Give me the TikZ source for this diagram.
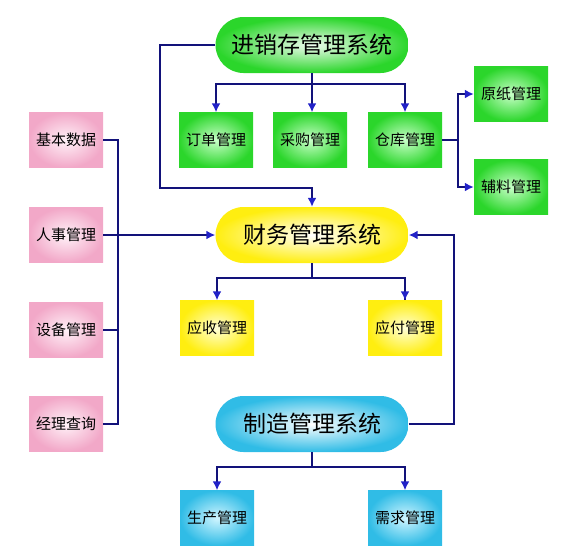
\documentclass[tikz,border=0pt]{standalone}
\usepackage{fontspec}
\newfontfamily\cjk{Noto Sans CJK SC}
\usepackage{tikz}
\usetikzlibrary{arrows.meta,positioning,calc,shapes.misc}
\usepackage{xcolor}
\definecolor{Navy}{HTML}{12127A}
\definecolor{TipBlue}{HTML}{2222C8}
\definecolor{GreenEdge}{HTML}{2BD62B}
\definecolor{GreenLight}{HTML}{C8FFC8}
\definecolor{YellowEdge}{HTML}{FFEE10}
\definecolor{YellowLight}{HTML}{FFFFD8}
\definecolor{PinkEdge}{HTML}{F2A8C8}
\definecolor{PinkLight}{HTML}{FFF2F8}
\definecolor{CyanEdge}{HTML}{30BCE6}
\definecolor{CyanLight}{HTML}{D0F5FF}
\tikzset{
 box/.style={minimum width=74pt, minimum height=55pt, inner sep=2pt, font=\cjk\fontsize{15}{18}\selectfont},
 greenbox/.style={box, inner color=GreenLight, outer color=GreenEdge},
 yellowbox/.style={box, inner color=YellowLight, outer color=YellowEdge},
 pinkbox/.style={box, inner color=PinkLight, outer color=PinkEdge},
 cyanbox/.style={box, inner color=CyanLight, outer color=CyanEdge},
 pill/.style={rounded rectangle, minimum width=197pt, minimum height=56pt, inner sep=2pt, font=\cjk\fontsize{23}{27}\selectfont},
 greenpill/.style={pill, inner color=white!92!GreenEdge, outer color=GreenEdge},
 yellowpill/.style={pill, inner color=white, outer color=YellowEdge},
 cyanpill/.style={pill, inner color=white, outer color=CyanEdge},
 line/.style={draw=Navy, line width=1.8pt},
 arrow/.style={line, -{Latex[length=9pt,width=9pt,color=TipBlue]}}
}
\begin{document}
\begin{tikzpicture}[x=1pt,y=-1pt]
\useasboundingbox (0,0) rectangle (577,552);
% main systems
\node[greenpill] (jxc) at (312,45) {进销存管理系统};
\node[yellowpill] (caiwu) at (312,235) {财务管理系统};
\node[cyanpill] (zhizao) at (312,424) {制造管理系统};
% purchase / sales / stock
\node[greenbox] (dingdan) at (216,140) {订单管理};
\node[greenbox] (caigou) at (310,140) {采购管理};
\node[greenbox] (cangku) at (405,140) {仓库管理};
\node[greenbox] (yuanzhi) at (511,94) {原纸管理};
\node[greenbox] (fuliao) at (511,187) {辅料管理};
% finance
\node[yellowbox] (yingshou) at (217,328) {应收管理};
\node[yellowbox] (yingfu) at (405,328) {应付管理};
% manufacturing
\node[cyanbox] (shengchan) at (217,518) {生产管理};
\node[cyanbox] (xuqiu) at (405,518) {需求管理};
% left side
\node[pinkbox] (jiben) at (66,140) {基本数据};
\node[pinkbox] (renshi) at (66,235) {人事管理};
\node[pinkbox] (shebei) at (66,330) {设备管理};
\node[pinkbox] (jingli) at (66,424) {经理查询};
\coordinate (bus) at (118,235);
\coordinate (loop) at (160,188);
% connectors
\draw[arrow] (jxc.south) -- (caigou.north -| jxc.south);
\draw[arrow] (jxc.south) ++(0,11) -| (dingdan.north);
\draw[arrow] (jxc.south) ++(0,11) -| (cangku.north);
\draw[arrow] (cangku.east) -- ++(16,0) |- (yuanzhi.west);
\draw[arrow] (cangku.east) -- ++(16,0) |- (fuliao.west);
\draw[arrow] (jxc.west) -| (loop) -| (caiwu.north);
\draw[arrow] (caiwu.south) ++(0,15) -| (yingshou.north);
\draw[line] (caiwu.south) -- ++(0,15) -| (yingfu.north);
\draw[arrow] (caiwu.south) ++(0,15) -| (yingfu.north);
\draw[arrow] (zhizao.east) -- ++(45,0) |- (caiwu.east);
\draw[arrow] (zhizao.south) -- ++(0,15) -| (shengchan.north);
\draw[arrow] (zhizao.south) ++(0,15) -| (xuqiu.north);
\draw[line] (jiben.east) -| (bus) |- (jingli.east);
\draw[line] (shebei.east) -- (shebei.east -| bus);
\draw[arrow] (renshi.east) -- (caiwu.west);
\end{tikzpicture}
\end{document}
